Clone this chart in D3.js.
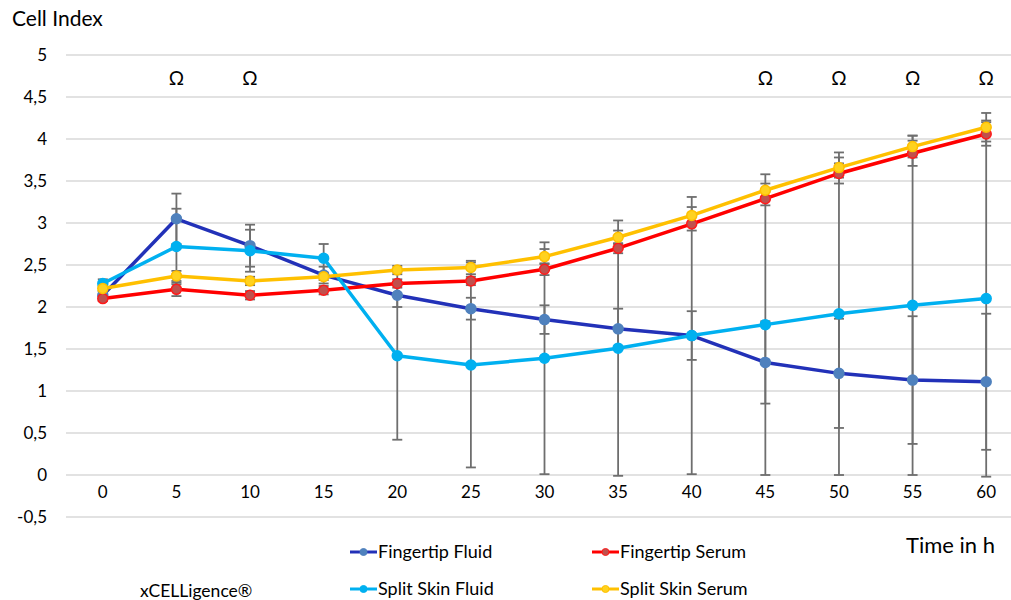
<!DOCTYPE html>
<html>
<head>
<meta charset="utf-8">
<script src="https://cdn.jsdelivr.net/npm/d3@7"></script>
<style>
  body { margin: 0; background: #fff; }
  svg text { font-family: Lato, "Open Sans", sans-serif; fill: #000; }
</style>
</head>
<body>
<svg id="chart"></svg>
<script>
// time points (h)
var hours = [0, 5, 10, 15, 20, 25, 30, 35, 40, 45, 50, 55, 60];
var yTicks = [-0.5, 0, 0.5, 1, 1.5, 2, 2.5, 3, 3.5, 4, 4.5, 5];
var omegaHours = [5, 10, 45, 50, 55, 60];

var seriesNames = ['Fingertip Fluid', 'Fingertip Serum', 'Split Skin Fluid', 'Split Skin Serum'];

var fingertipFluid  = [2.14, 3.05, 2.73, 2.38, 2.14, 1.98, 1.85, 1.74, 1.66, 1.34, 1.21, 1.13, 1.11];
var fingertipSerum  = [2.10, 2.21, 2.14, 2.20, 2.28, 2.31, 2.45, 2.70, 2.99, 3.29, 3.59, 3.83, 4.06];
var splitSkinFluid  = [2.28, 2.72, 2.67, 2.58, 1.42, 1.31, 1.39, 1.51, 1.66, 1.79, 1.92, 2.02, 2.10];
var splitSkinSerum  = [2.22, 2.37, 2.31, 2.36, 2.44, 2.47, 2.60, 2.83, 3.09, 3.39, 3.66, 3.91, 4.14];

// +/- error per point
var fingertipFluidErr = [0.05, 0.30, 0.25, 0.10, 0.14, 0.13, 0.17, 0.24, 0.29, 0.49, 0.65, 0.76, 0.81];
var fingertipSerumErr = [0.03, 0.08, 0.05, 0.05, 0.05, 0.05, 0.07, 0.06, 0.08, 0.08, 0.12, 0.15, 0.14];
var splitSkinFluidErr = [0.05, 0.45, 0.25, 0.17, 1.00, 1.22, 1.38, 1.52, 1.65, 1.79, 1.92, 2.02, 2.12];
var splitSkinSerumErr = [0.03, 0.06, 0.05, 0.04, 0.05, 0.08, 0.09, 0.08, 0.10, 0.08, 0.12, 0.13, 0.17];

var lineColors   = ['#2231b8', '#ff0000', '#00b0f0', '#ffc000'];
var markerFills  = ['#4f81bd', '#c0504d', '#00b0f0', '#ffd21f'];
var markerStroke = ['#4f81bd', '#ff1a1a', '#00b0f0', '#ffc000'];

var series = [
    {name: seriesNames[0], values: fingertipFluid, err: fingertipFluidErr},
    {name: seriesNames[1], values: fingertipSerum, err: fingertipSerumErr},
    {name: seriesNames[2], values: splitSkinFluid, err: splitSkinFluidErr},
    {name: seriesNames[3], values: splitSkinSerum, err: splitSkinSerumErr}
];

var width = 1011, height = 600,
    margin = {left: 66, right: -12, top: 55, bottom: 83};

var svg = d3.select('#chart')
    .attr('width', width)
    .attr('height', height);

var xScale = d3.scaleBand()
    .domain(hours)
    .range([margin.left, width - margin.right]);
var yScale = d3.scaleLinear()
    .domain([-0.5, 5])
    .range([height - margin.bottom, margin.top]);

var xc = function (h) { return xScale(h) + xScale.bandwidth() / 2; };
var fmt = function (v) { return String(v).replace('.', ','); };

// gridlines
svg.append('g')
    .selectAll('line')
    .data(yTicks)
    .enter()
    .append('line')
    .attr('x1', margin.left)
    .attr('x2', width - margin.right)
    .attr('y1', function (d) { return yScale(d); })
    .attr('y2', function (d) { return yScale(d); })
    .attr('stroke', '#d9d9d9')
    .attr('stroke-width', 1.5);

// y axis labels
var yAxis = d3.axisLeft(yScale)
    .tickValues(yTicks)
    .tickSize(0)
    .tickPadding(0)
    .tickFormat(fmt);
var yg = svg.append('g')
    .attr('transform', 'translate(47,0)')
    .call(yAxis);
yg.select('.domain').remove();
yg.selectAll('text')
    .attr('font-size', 17)
    .attr('font-family', 'Lato, "Open Sans", sans-serif')
    .attr('fill', '#000');

// x axis labels (sit between 0 and -0.5)
var xAxis = d3.axisBottom(xScale)
    .tickSize(0)
    .tickPadding(0);
var xg = svg.append('g')
    .attr('transform', 'translate(0,' + (yScale(-0.25) - 10) + ')')
    .call(xAxis);
xg.select('.domain').remove();
xg.selectAll('text')
    .attr('font-size', 17)
    .attr('font-family', 'Lato, "Open Sans", sans-serif')
    .attr('fill', '#000');

// error bars
var capW = 5;
series.forEach(function (s) {
    var g = svg.append('g').attr('stroke', '#6e6e6e').attr('stroke-width', 1.8);
    s.values.forEach(function (v, i) {
        var e = s.err[i];
        var x = xc(hours[i]);
        var y1 = yScale(v + e), y2 = yScale(v - e);
        g.append('line').attr('x1', x).attr('x2', x).attr('y1', y1).attr('y2', y2);
        g.append('line').attr('x1', x - capW).attr('x2', x + capW).attr('y1', y1).attr('y2', y1);
        g.append('line').attr('x1', x - capW).attr('x2', x + capW).attr('y1', y2).attr('y2', y2);
    });
});

// lines and markers
var line = d3.line()
    .x(function (d, i) { return xc(hours[i]); })
    .y(function (d) { return yScale(d); });

series.forEach(function (s, k) {
    svg.append('path')
        .datum(s.values)
        .attr('d', line)
        .attr('fill', 'none')
        .attr('stroke', lineColors[k])
        .attr('stroke-width', 3.5)
        .attr('stroke-linejoin', 'round');
});
series.forEach(function (s, k) {
    svg.append('g')
        .selectAll('circle')
        .data(s.values)
        .enter()
        .append('circle')
        .attr('cx', function (d, i) { return xc(hours[i]); })
        .attr('cy', function (d) { return yScale(d); })
        .attr('r', 5)
        .attr('fill', markerFills[k])
        .attr('stroke', markerStroke[k])
        .attr('stroke-width', 1.5);
});

// omega marks
svg.append('g')
    .selectAll('text')
    .data(omegaHours)
    .enter()
    .append('text')
    .attr('x', function (d) { return xc(d); })
    .attr('y', yScale(4.73) + 7)
    .attr('text-anchor', 'middle')
    .attr('font-size', 19)
    .text('\u03A9');

// titles
svg.append('text')
    .attr('x', 12)
    .attr('y', 26)
    .attr('font-size', 21)
    .text('Cell Index');

svg.append('text')
    .attr('x', 995)
    .attr('y', 553)
    .attr('text-anchor', 'end')
    .attr('font-size', 22)
    .text('Time in h');

svg.append('text')
    .attr('x', 140)
    .attr('y', 597)
    .attr('font-size', 17.5)
    .text('xCELLigence\u00AE');

// legend
var legendPos = [[350, 558], [592, 558], [350, 595], [592, 595]];
series.forEach(function (s, k) {
    var lg = svg.append('g')
        .attr('transform', 'translate(' + legendPos[k][0] + ',' + legendPos[k][1] + ')');
    lg.append('line')
        .attr('x1', 0).attr('x2', 27)
        .attr('y1', -6).attr('y2', -6)
        .attr('stroke', lineColors[k])
        .attr('stroke-width', 3);
    lg.append('circle')
        .attr('cx', 13.5).attr('cy', -6).attr('r', 3.5)
        .attr('fill', markerFills[k])
        .attr('stroke', markerStroke[k]);
    lg.append('text')
        .attr('x', 28)
        .attr('y', 0)
        .attr('font-size', 18)
        .text(s.name);
});
</script>
</body>
</html>
